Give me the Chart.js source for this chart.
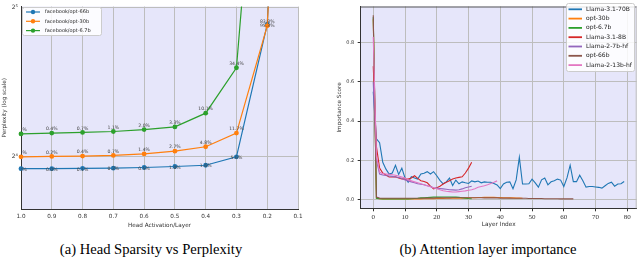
<!DOCTYPE html>
<html lang="en">
<head>
<meta charset="UTF-8">
<title>Head sparsity / layer importance</title>
<script src="https://cdn.jsdelivr.net/npm/chart.js"></script>
<style>
    body { margin: 0; background: #fff; }
    .wrap { position: relative; width: 640px; height: 258px; overflow: hidden; }
    .panel { position: absolute; top: 0; }
    .caption {
        position: absolute; top: 241px;
        font-family: 'Liberation Serif', 'Times New Roman', serif;
        font-size: 14.6px; line-height: 16px;
        white-space: nowrap; transform: translateX(-50%); color: #000;
    }
</style>
</head>
<body>
<div class="wrap">
    <canvas id="sparsity" class="panel" width="320" height="234" style="left:0"></canvas>
    <canvas id="importance" class="panel" width="320" height="234" style="left:320px"></canvas>
    <div class="caption" style="left:151px">(a) Head Sparsity vs Perplexity</div>
    <div class="caption" style="left:488px">(b) Attention layer importance</div>
</div>
<script>
    // ---- (a) head sparsity vs perplexity ----
    const activationTicks = ['1.0', '0.9', '0.8', '0.7', '0.6', '0.5', '0.4', '0.3', '0.2', '0.1'];
    const pplTickValues = [16, 32];
    const pplTickLabels = ['2⁴', '2⁵'];

    const opt66bPpl = [15.15, 15.15, 15.17, 15.18, 15.23, 15.30, 15.39, 16.00, 29.6, 450];
    const opt30bPpl = [16.0, 16.03, 16.06, 16.11, 16.22, 16.43, 16.77, 17.87, 29.4, 420];
    const opt67bPpl = [17.8, 17.87, 17.92, 18.0, 18.16, 18.39, 19.6, 24.2, 136, 2000];

    const opt66bPct = ['0.0%', '0.0%', '0.1%', '0.2%', '0.5%', '1.0%', '1.6%', '5.6%', '95.3%', null];
    const opt30bPct = ['0.0%', '0.2%', '0.4%', '0.7%', '1.4%', '2.7%', '4.8%', '11.7%', '83.8%', null];
    const opt67bPct = ['0.0%', '0.4%', '0.7%', '1.1%', '2.0%', '3.3%', '10.1%', '34.4%', null, null];

    // ---- (b) attention layer importance ----
    const layerTickValues = [0, 10, 20, 30, 40, 50, 60, 70, 80];
    const scoreTickValues = [0, 0.2, 0.4, 0.6, 0.8];

    const llama31_70b = [
        0.55, 0.31, 0.29, 0.19, 0.155, 0.13, 0.135, 0.174, 0.128, 0.16,
        0.11, 0.088, 0.116, 0.11, 0.104, 0.13, 0.134, 0.142, 0.13, 0.142,
        0.121, 0.098, 0.08, 0.09, 0.109, 0.071, 0.099, 0.08, 0.09, 0.085,
        0.082, 0.095, 0.09, 0.094, 0.085, 0.09, 0.088, 0.088, 0.082, 0.074,
        0.056, 0.079, 0.088, 0.09, 0.055, 0.1, 0.215, 0.079, 0.079, 0.08,
        0.104, 0.085, 0.063, 0.1, 0.11, 0.075, 0.09, 0.096, 0.104, 0.099,
        0.066, 0.11, 0.175, 0.091, 0.091, 0.124, 0.096, 0.063, 0.066, 0.066,
        0.064, 0.062, 0.058, 0.07, 0.082, 0.088, 0.068, 0.079, 0.08, 0.092
    ];
    const opt30b = [
        0.92, 0.006, 0.004, 0.003, 0.003, 0.003, 0.003, 0.003, 0.003, 0.003,
        0.003, 0.003, 0.003, 0.003, 0.003, 0.003, 0.004, 0.004, 0.004, 0.004,
        0.005, 0.005, 0.005, 0.006, 0.006, 0.006, 0.007, 0.007, 0.007, 0.008,
        0.008, 0.009, 0.009, 0.01, 0.01, 0.011, 0.011, 0.011, 0.011, 0.01,
        0.01, 0.009, 0.009, 0.008, 0.008, 0.007, 0.007, 0.006
    ];
    const opt67b = [
        0.93, 0.006, 0.004, 0.003, 0.003, 0.003, 0.003, 0.003, 0.003, 0.003,
        0.003, 0.003, 0.004, 0.005, 0.006, 0.008, 0.009, 0.01, 0.011, 0.012,
        0.012, 0.012, 0.013, 0.013, 0.013, 0.012, 0.012, 0.011, 0.009, 0.007,
        0.005, 0.004
    ];
    const llama31_8b = [
        0.68, 0.27, 0.16, 0.135, 0.125, 0.115, 0.115, 0.116, 0.11, 0.105,
        0.104, 0.104, 0.11, 0.121, 0.108, 0.096, 0.092, 0.085, 0.068, 0.054,
        0.06, 0.068, 0.079, 0.088, 0.096, 0.104, 0.11, 0.113, 0.116, 0.135,
        0.16, 0.19
    ];
    const llama2_7b = [
        0.6, 0.2, 0.13, 0.125, 0.122, 0.12, 0.118, 0.115, 0.112, 0.108,
        0.1, 0.095, 0.09, 0.085, 0.08, 0.078, 0.075, 0.07, 0.066, 0.06,
        0.058, 0.056, 0.054, 0.052, 0.05, 0.049, 0.048, 0.05, 0.054, 0.06,
        0.064, 0.068
    ];
    const opt66b = [
        0.94, 0.012, 0.007, 0.006, 0.006, 0.006, 0.006, 0.006, 0.006, 0.006,
        0.006, 0.006, 0.006, 0.006, 0.006, 0.006, 0.007, 0.007, 0.007, 0.007,
        0.008, 0.008, 0.008, 0.008, 0.008, 0.009, 0.009, 0.009, 0.009, 0.009,
        0.009, 0.009, 0.009, 0.009, 0.009, 0.008, 0.008, 0.008, 0.008, 0.008,
        0.007, 0.007, 0.007, 0.007, 0.006, 0.006, 0.006, 0.006, 0.006, 0.005,
        0.005, 0.005, 0.005, 0.005, 0.004, 0.004, 0.004, 0.004, 0.004, 0.003,
        0.003, 0.003, 0.003, 0.003
    ];
    const llama2_13b = [
        0.83, 0.22, 0.14, 0.132, 0.13, 0.128, 0.126, 0.124, 0.12, 0.115,
        0.11, 0.1, 0.095, 0.09, 0.085, 0.08, 0.075, 0.07, 0.065, 0.06,
        0.055, 0.05, 0.045, 0.042, 0.04, 0.038, 0.038, 0.04, 0.042, 0.044,
        0.047, 0.05, 0.055, 0.062, 0.066, 0.07, 0.075, 0.082, 0.088, 0.095
    ];
    const layerIndex = Array.from({length: llama31_70b.length}, (_, i) => i);

    const gridColor = '#bdbdbd';
    const inkColor = '#333';
    const sans = 'DejaVu Sans';

    // lavender plot face
    const plotBg = {
        id: 'plotBg',
        beforeDraw(chart, args, opts) {
            const {ctx, chartArea: a} = chart;
            ctx.save();
            ctx.fillStyle = opts.color;
            ctx.fillRect(a.left, a.top, a.right - a.left, a.bottom - a.top);
            ctx.restore();
        }
    };

    // top / right spines
    const frame = {
        id: 'frame',
        beforeDatasetsDraw(chart, args, opts) {
            const {ctx, chartArea: a} = chart;
            ctx.save();
            ctx.lineWidth = 1;
            if (opts.top) {
                ctx.strokeStyle = opts.top;
                ctx.beginPath(); ctx.moveTo(a.left, a.top + 0.5); ctx.lineTo(a.right, a.top + 0.5); ctx.stroke();
            }
            if (opts.right) {
                ctx.strokeStyle = opts.right;
                ctx.beginPath(); ctx.moveTo(a.right - 0.5, a.top); ctx.lineTo(a.right - 0.5, a.bottom); ctx.stroke();
            }
            ctx.restore();
        }
    };

    // percent notes next to each point
    const pointNotes = {
        id: 'pointNotes',
        afterDatasetsDraw(chart, args, opts) {
            if (!opts.display) return;
            const {ctx, chartArea: a} = chart;
            ctx.save();
            ctx.beginPath();
            ctx.rect(a.left, a.top, a.right - a.left, a.bottom - a.top);
            ctx.clip();
            ctx.font = opts.font;
            ctx.fillStyle = opts.color;
            ctx.textAlign = 'center';
            ctx.textBaseline = 'middle';
            chart.data.datasets.forEach((ds, i) => {
                if (!ds.notes) return;
                chart.getDatasetMeta(i).data.forEach((pt, j) => {
                    if (ds.notes[j]) ctx.fillText(ds.notes[j], pt.x, pt.y + opts.dy[i]);
                });
            });
            ctx.restore();
        }
    };

    // matplotlib-like boxed legend
    const boxLegend = {
        id: 'boxLegend',
        afterDraw(chart, args, o) {
            if (!o.display) return;
            const ctx = chart.ctx;
            ctx.save();
            ctx.fillStyle = 'rgba(255,255,255,0.85)';
            ctx.strokeStyle = '#cccccc';
            ctx.lineWidth = 1;
            ctx.beginPath();
            ctx.roundRect(o.x + 0.5, o.y + 0.5, o.w, o.h, 2);
            ctx.fill();
            ctx.stroke();
            ctx.font = o.font;
            ctx.textBaseline = 'middle';
            chart.data.datasets.forEach((ds, i) => {
                const y = o.y + o.first + i * o.row;
                ctx.strokeStyle = ds.borderColor;
                ctx.lineWidth = o.lineWidth;
                ctx.beginPath();
                ctx.moveTo(o.x + o.hx0, y);
                ctx.lineTo(o.x + o.hx1, y);
                ctx.stroke();
                if (o.marker) {
                    ctx.fillStyle = ds.borderColor;
                    ctx.beginPath();
                    ctx.arc(o.x + (o.hx0 + o.hx1) / 2, y, o.marker, 0, Math.PI * 2);
                    ctx.fill();
                }
                ctx.fillStyle = '#222';
                ctx.fillText(ds.label, o.x + o.tx, y);
            });
            ctx.restore();
        }
    };

    function sparsitySet(label, data, notes, color, order) {
        return {
            label, data, notes, order,
            borderColor: color, backgroundColor: color,
            borderWidth: 1.2, tension: 0,
            pointRadius: 2.4, pointBorderWidth: 0, pointBackgroundColor: color
        };
    }

    function layerSet(label, data, color, order) {
        return {
            label, data, order,
            borderColor: color, backgroundColor: color,
            borderWidth: 1.1, tension: 0, pointRadius: 0
        };
    }

    new Chart(document.getElementById('sparsity'), {
        type: 'line',
        data: {
            labels: activationTicks,
            datasets: [
                sparsitySet('facebook/opt-66b', opt66bPpl, opt66bPct, '#1f77b4', 3),
                sparsitySet('facebook/opt-30b', opt30bPpl, opt30bPct, '#ff7f0e', 2),
                sparsitySet('facebook/opt-6.7b', opt67bPpl, opt67bPct, '#2ca02c', 1)
            ]
        },
        plugins: [plotBg, frame, pointNotes, boxLegend],
        options: {
            animation: false,
            responsive: false,
            devicePixelRatio: 1,
            layout: {padding: {top: 3, right: 22, left: 0, bottom: 0}},
            plugins: {
                legend: {display: false},
                tooltip: {enabled: false},
                plotBg: {color: '#e6e6fa'},
                frame: {},
                pointNotes: {display: true, font: '4.6px "DejaVu Sans"', color: '#444', dy: [1, -4, -4]},
                boxLegend: {
                    display: true, x: 22, y: 7, w: 79, h: 28, first: 5, row: 9.3,
                    hx0: 4, hx1: 18, tx: 23, marker: 2.2, lineWidth: 1.2, font: '5px "DejaVu Sans"'
                }
            },
            scales: {
                x: {
                    type: 'category',
                    offset: false,
                    grid: {offset: false, color: gridColor, lineWidth: 1, drawTicks: false},
                    border: {color: inkColor, width: 1},
                    ticks: {color: inkColor, font: {family: sans, size: 5.7}, padding: 4.5, maxRotation: 0, autoSkip: false},
                    title: {
                        display: true, text: 'Head Activation/Layer', color: inkColor,
                        font: {family: sans, size: 5.7, lineHeight: 1.2}, padding: {top: 0, bottom: 5.4}
                    },
                    afterFit(s) { s.height = 25; }
                },
                y: {
                    type: 'logarithmic',
                    min: 12.56,
                    max: 32.15,
                    afterBuildTicks(s) { s.ticks = pplTickValues.map(v => ({value: v})); },
                    grid: {color: gridColor, lineWidth: 1, drawTicks: false},
                    border: {color: inkColor, width: 1},
                    ticks: {
                        color: inkColor, font: {family: sans, size: 6}, padding: 3,
                        callback: (v, i) => pplTickLabels[i]
                    },
                    title: {
                        display: true, text: 'Perplexity (log scale)', color: inkColor,
                        font: {family: sans, size: 5.7, lineHeight: 1.2}, padding: {top: 1.4, bottom: 0}
                    },
                    afterFit(s) { s.width = 21; }
                }
            }
        }
    });

    new Chart(document.getElementById('importance'), {
        type: 'line',
        data: {
            labels: layerIndex,
            datasets: [
                layerSet('Llama-3.1-70B', llama31_70b, '#1f77b4', 7),
                layerSet('opt-30b', opt30b, '#ff7f0e', 6),
                layerSet('opt-6.7b', opt67b, '#2ca02c', 5),
                layerSet('Llama-3.1-8B', llama31_8b, '#d62728', 4),
                layerSet('Llama-2-7b-hf', llama2_7b, '#9467bd', 3),
                layerSet('opt-66b', opt66b, '#8c564b', 2),
                layerSet('Llama-2-13b-hf', llama2_13b, '#e377c2', 1)
            ]
        },
        plugins: [plotBg, frame, boxLegend],
        options: {
            animation: false,
            responsive: false,
            devicePixelRatio: 1,
            layout: {padding: {top: 1, right: 3.3, left: 0, bottom: 0}},
            plugins: {
                legend: {display: false},
                tooltip: {enabled: false},
                plotBg: {color: '#e6e6fa'},
                frame: {top: '#555', right: gridColor},
                boxLegend: {
                    display: true, x: 246, y: 3, w: 68, h: 68, first: 6.3, row: 9.3,
                    hx0: 2.5, hx1: 16, tx: 20, marker: 0, lineWidth: 1.8, font: '6px "DejaVu Sans"'
                }
            },
            scales: {
                x: {
                    type: 'linear',
                    min: -3.95,
                    max: 82.95,
                    afterBuildTicks(s) { s.ticks = layerTickValues.map(v => ({value: v})); },
                    grid: {color: gridColor, lineWidth: 1, tickLength: 3, tickColor: inkColor},
                    border: {color: inkColor, width: 1},
                    ticks: {
                        color: inkColor, font: {family: 'Liberation Serif', size: 7}, padding: 2,
                        maxRotation: 0, callback: v => String(v)
                    },
                    title: {
                        display: true, text: 'Layer Index', color: inkColor,
                        font: {family: sans, size: 5.8, lineHeight: 1.2}, padding: {top: 0, bottom: 6.5}
                    },
                    afterFit(s) { s.height = 25.7; }
                },
                y: {
                    type: 'linear',
                    min: -0.045,
                    max: 0.985,
                    afterBuildTicks(s) { s.ticks = scoreTickValues.map(v => ({value: v})); },
                    grid: {color: gridColor, lineWidth: 1, tickLength: 3, tickColor: inkColor},
                    border: {color: inkColor, width: 1},
                    ticks: {
                        color: inkColor, font: {family: sans, size: 5}, padding: 3.5,
                        callback: v => v.toFixed(1)
                    },
                    title: {
                        display: true, text: 'Importance Score', color: inkColor,
                        font: {family: sans, size: 5.7, lineHeight: 1.2}, padding: {top: 16.4, bottom: 0}
                    },
                    afterFit(s) { s.width = 40.7; }
                }
            }
        }
    });
</script>
</body>
</html>
